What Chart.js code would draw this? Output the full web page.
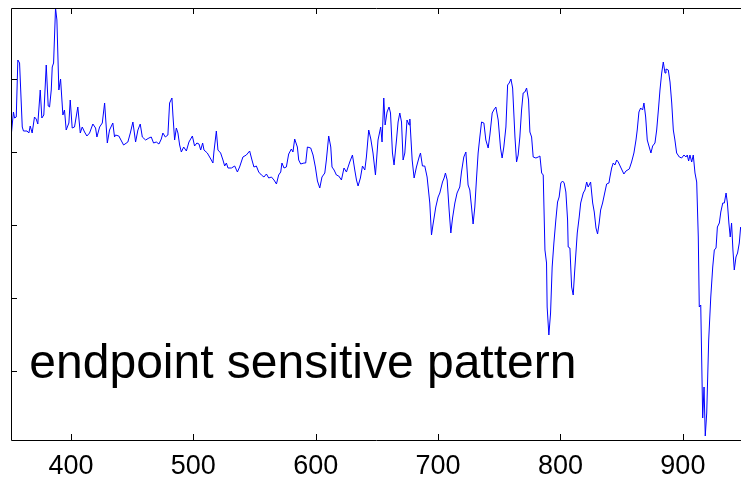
<!DOCTYPE html>
<html>
<head>
<meta charset="utf-8">
<script src="https://cdn.jsdelivr.net/npm/chart.js@4.4.1/dist/chart.umd.min.js"></script>
<style>
  body { margin: 0; background: #fff; }
  canvas { display: block; }
</style>
</head>
<body>
<canvas id="spectrum" width="741" height="478"></canvas>
<script>
// wavelength (x) and signal (y)
var wavelengths = [
  351.2, 353.0, 353.9, 355.3, 356.6, 358.0, 360.2, 361.2, 364.1, 365.6,
  366.7, 368.3, 370.2, 371.6, 372.9, 374.9, 376.2, 377.8, 379.8, 381.4,
  382.5, 383.9, 384.7, 385.8, 387.4, 388.5, 390.1, 391.5, 393.4, 394.7,
  396.1, 398.3, 399.4, 401.0, 402.9, 405.6, 407.6, 409.2, 411.1, 413.0,
  415.2, 417.9, 420.1, 421.2, 423.4, 425.6, 427.5, 429.7, 431.5, 434.2,
  435.6, 436.4, 439.1, 443.0, 446.5, 448.5, 450.6, 452.8, 454.7, 456.6,
  458.3, 461.0, 463.7, 465.6, 467.5, 469.7, 471.9, 473.8, 475.1, 477.1,
  479.2, 480.6, 482.5, 483.3, 484.7, 486.1, 487.4, 488.8, 490.2, 492.1,
  494.3, 496.4, 499.2, 501.0, 502.9, 504.6, 506.0, 507.6, 508.7, 511.4,
  513.3, 514.7, 516.0, 516.8, 518.8, 520.1, 522.3, 524.2, 525.6, 527.0,
  528.3, 531.1, 533.8, 536.0, 537.8, 540.5, 543.3, 546.0, 547.9, 549.5,
  551.5, 553.4, 555.6, 557.7, 559.7, 561.6, 563.8, 565.9, 567.9, 569.7,
  571.4, 572.4, 574.1, 576.0, 577.9, 580.1, 581.4, 582.8, 585.0, 586.1,
  587.7, 590.4, 591.8, 593.2, 595.9, 597.8, 599.7, 601.4, 603.3, 605.1,
  607.4, 608.7, 610.6, 612.3, 613.3, 615.0, 616.9, 618.8, 621.0, 623.1,
  625.1, 627.8, 630.0, 631.9, 633.3, 634.6, 636.5, 638.2, 640.1, 641.4,
  643.3, 645.0, 646.8, 648.8, 650.9, 653.1, 654.2, 655.6, 656.7, 658.3,
  659.9, 661.1, 662.7, 664.0, 666.0, 667.3, 668.7, 670.1, 671.4, 672.8,
  674.6, 676.3, 676.9, 678.8, 680.4, 682.3, 684.5, 685.6, 687.2, 689.1,
  691.0, 693.2, 694.6, 695.9, 698.1, 700.0, 701.4, 703.6, 704.9, 706.0,
  707.4, 709.0, 710.4, 711.8, 713.7, 715.5, 717.7, 719.1, 721.0, 722.7,
  724.5, 725.9, 727.3, 728.6, 730.0, 731.4, 732.7, 734.1, 735.5, 737.4,
  739.0, 740.9, 742.3, 744.2, 745.5, 747.2, 749.1, 751.0, 752.3, 753.7,
  755.4, 756.8, 758.1, 759.5, 760.9, 762.8, 764.1, 765.4, 766.8, 768.2,
  769.5, 770.9, 772.3, 773.9, 775.0, 776.4, 777.7, 779.9, 781.8, 783.2,
  784.6, 785.9, 787.3, 788.6, 789.1, 790.5, 791.9, 793.2, 794.6, 796.2,
  797.6, 798.9, 800.3, 801.7, 803.0, 804.4, 805.8, 806.3, 807.7, 809.1,
  810.4, 811.5, 812.6, 813.7, 815.3, 816.5, 818.6, 820.0, 821.4, 822.6,
  824.6, 826.3, 827.6, 829.0, 830.3, 831.6, 832.8, 834.4, 836.3, 837.7,
  839.6, 840.4, 841.8, 843.1, 844.5, 845.9, 847.2, 849.1, 851.8, 853.5,
  856.2, 858.1, 860.0, 861.7, 862.7, 864.1, 865.5, 867.1, 868.2, 869.6,
  870.9, 872.5, 873.9, 875.3, 877.2, 878.6, 880.2, 881.3, 882.7, 884.0,
  885.4, 886.2, 888.1, 889.5, 890.9, 892.2, 893.5, 894.9, 897.1, 899.0,
  900.9, 902.5, 903.6, 904.7, 905.8, 907.2, 908.5, 909.9, 911.3, 912.6,
  913.4, 914.6, 916.2, 917.3, 918.3, 919.5, 921.1, 922.8, 924.4, 925.7,
  927.1, 928.2, 929.8, 931.0, 932.6, 933.9, 935.3, 936.4, 937.6, 938.7,
  939.8, 940.9, 942.0, 943.4, 944.7, 946.1, 947.2
];
var signal = [
  305, 328, 322, 323, 380, 377, 313, 309, 309, 307,
  314, 307, 323, 321, 316, 350, 322, 325, 375, 334,
  333, 350, 373, 377, 432, 420, 350, 361, 325, 330,
  310, 317, 340, 312, 313, 333, 307, 313, 308, 304,
  307, 316, 312, 303, 313, 317, 337, 297, 310, 317,
  303, 305, 304, 295, 298, 307, 318, 298, 310, 316,
  303, 300, 302, 303, 297, 298, 296, 301, 307, 303,
  305, 337, 342, 325, 300, 312, 307, 295, 288, 293,
  289, 298, 304, 294, 297, 296, 290, 297, 290, 287,
  283, 280, 277, 288, 309, 290, 287, 280, 274, 277,
  272, 272, 274, 268, 273, 283, 285, 289, 280, 273,
  274, 268, 265, 263, 266, 262, 263, 260, 256, 265,
  268, 277, 272, 273, 286, 291, 288, 301, 293, 280,
  276, 277, 277, 293, 292, 285, 273, 259, 252, 263,
  267, 280, 304, 293, 273, 270, 265, 264, 260, 272,
  268, 278, 285, 270, 260, 254, 262, 274, 270, 283,
  310, 301, 287, 265, 300, 313, 298, 342, 315, 328,
  333, 327, 287, 275, 300, 318, 327, 318, 280, 287,
  320, 315, 321, 280, 262, 273, 283, 287, 274, 274,
  263, 237, 205, 216, 233, 243, 247, 258, 262, 267,
  260, 230, 207, 222, 237, 247, 253, 268, 283, 288,
  255, 250, 233, 216, 233, 262, 287, 303, 318, 317,
  300, 292, 305, 327, 330, 333, 320, 292, 282, 293,
  313, 355, 357, 361, 352, 303, 278, 285, 303, 330,
  347, 348, 352, 340, 308, 303, 283, 282, 283, 284,
  267, 265, 190, 177, 133, 105, 127, 173, 197, 220,
  238, 243, 257, 259, 257, 248, 220, 193, 192, 153,
  145, 167, 187, 207, 223, 237, 247, 250, 258, 253,
  258, 237, 228, 212, 206, 217, 230, 237, 248, 256,
  257, 263, 272, 277, 275, 280, 278, 273, 266, 269,
  271, 278, 287, 300, 310, 328, 332, 330, 337, 323,
  300, 293, 287, 294, 297, 310, 333, 350, 367, 378,
  367, 371, 370, 358, 337, 310, 300, 287, 283, 282,
  285, 283, 285, 279, 285, 278, 285, 267, 258, 203,
  133, 135, 22, 53, 4, 27, 100, 143, 173, 190,
  192, 213, 217, 228, 237, 237, 247, 237, 217, 203,
  217, 190, 170, 183, 187, 197, 213
];
var xTicks = [400, 500, 600, 700, 800, 900];
var yTicks = [69, 142, 215, 288, 361];
var xMin = 351, xMax = 947.5;
var yMin = 0, yMax = 432;
var caption = "endpoint sensitive pattern";

var points = [];
for (var i = 0; i < wavelengths.length; i++) {
    points.push({ x: wavelengths[i], y: signal[i] });
}

// frame, inward ticks and the caption, like the old matlab figure
var frameAndTicks = {
    id: 'frameAndTicks',
    afterDraw: function (chart) {
        var ctx = chart.ctx;
        var area = chart.chartArea;
        var xs = chart.scales.x;
        var ys = chart.scales.y;
        var tick = 6;
        ctx.save();
        ctx.strokeStyle = '#000';
        ctx.lineWidth = 1;
        ctx.beginPath();
        ctx.rect(Math.round(area.left) + 0.5, Math.round(area.top) + 0.5,
                 area.right - area.left, Math.round(area.bottom - area.top));
        for (var i = 0; i < xTicks.length; i++) {
            var px = Math.round(xs.getPixelForValue(xTicks[i])) + 0.5;
            ctx.moveTo(px, area.bottom);
            ctx.lineTo(px, area.bottom - tick);
            ctx.moveTo(px, area.top);
            ctx.lineTo(px, area.top + tick);
        }
        for (var j = 0; j < yTicks.length; j++) {
            var py = Math.round(ys.getPixelForValue(yTicks[j])) + 0.5;
            ctx.moveTo(area.left, py);
            ctx.lineTo(area.left + tick, py);
        }
        ctx.stroke();

        ctx.fillStyle = '#000';
        ctx.font = '48px "Liberation Sans", Arial, sans-serif';
        ctx.textBaseline = 'alphabetic';
        ctx.textAlign = 'left';
        ctx.fillText(caption, xs.getPixelForValue(366), ys.getPixelForValue(62));
        ctx.restore();
    }
};

var ctx = document.getElementById('spectrum').getContext('2d');
var chart = new Chart(ctx, {
    type: 'line',
    data: {
        datasets: [{
            data: points,
            borderColor: '#0000ff',
            borderWidth: 1,
            pointRadius: 0,
            tension: 0,
            fill: false
        }]
    },
    options: {
        responsive: false,
        animation: false,
        parsing: false,
        layout: { padding: { left: 11, top: 8, right: 0, bottom: 0 } },
        plugins: { legend: { display: false }, tooltip: { enabled: false } },
        scales: {
            x: {
                type: 'linear',
                min: xMin,
                max: xMax,
                afterBuildTicks: function (scale) {
                    scale.ticks = xTicks.map(function (v) { return { value: v }; });
                },
                afterFit: function (scale) { scale.height = 38; },
                grid: { display: false, drawTicks: false },
                border: { display: false },
                ticks: {
                    color: '#000',
                    padding: 10,
                    maxRotation: 0,
                    font: { family: '"Liberation Sans", Arial, sans-serif', size: 27 }
                }
            },
            y: {
                type: 'linear',
                display: false,
                min: yMin,
                max: yMax
            }
        }
    },
    plugins: [frameAndTicks]
});
</script>
</body>
</html>
